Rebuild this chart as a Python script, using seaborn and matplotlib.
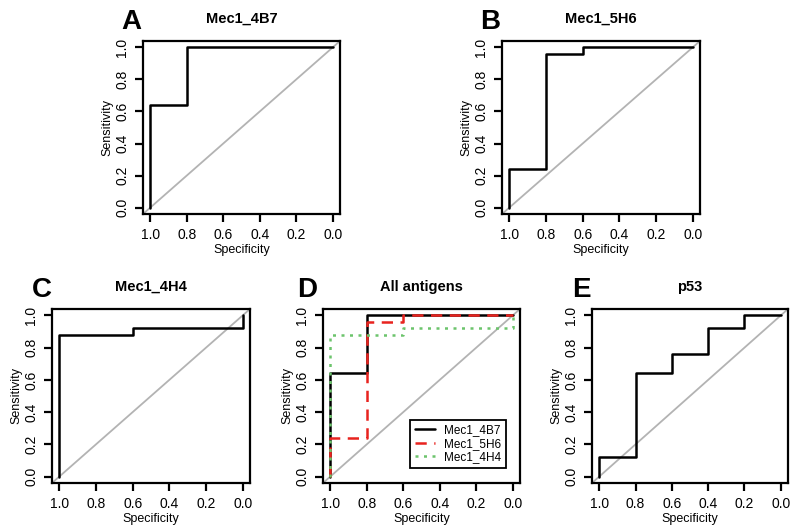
import matplotlib
matplotlib.use("Agg")
import matplotlib.pyplot as plt
import pandas as pd
import seaborn as sns

# ROC points (specificity, sensitivity)
SPEC_4B7 = [1.0, 1.0, 0.8, 0.8, 0.0]
SENS_4B7 = [0.0, 0.64, 0.64, 1.0, 1.0]

SPEC_5H6 = [1.0, 1.0, 0.8, 0.8, 0.6, 0.6, 0.0]
SENS_5H6 = [0.0, 0.24, 0.24, 0.96, 0.96, 1.0, 1.0]

SPEC_4H4 = [1.0, 1.0, 0.6, 0.6, 0.0, 0.0]
SENS_4H4 = [0.0, 0.88, 0.88, 0.92, 0.92, 1.0]

SPEC_P53 = [1.0, 1.0, 0.8, 0.8, 0.6, 0.6, 0.4, 0.4, 0.2, 0.2, 0.0]
SENS_P53 = [0.0, 0.12, 0.12, 0.64, 0.64, 0.76, 0.76, 0.92, 0.92, 1.0, 1.0]

TICKS = [1.0, 0.8, 0.6, 0.4, 0.2, 0.0]
TICK_LABELS = ["1.0", "0.8", "0.6", "0.4", "0.2", "0.0"]

sns.set_style("white")
plt.rcParams["font.family"] = ["Liberation Sans", "DejaVu Sans"]
plt.rcParams["text.color"] = "black"
plt.rcParams["axes.labelcolor"] = "black"


def roc_frame(spec, sens):
    return pd.DataFrame({"spec": spec, "sens": sens})


def style_axis(ax, letter, title, letter_x):
    ax.set_xlim(1.04, -0.04)
    ax.set_ylim(-0.04, 1.04)
    ax.axline((1.0, 0.0), (0.0, 1.0), color="#b3b3b3", linewidth=1.3, zorder=1)
    for spine in ax.spines.values():
        spine.set_visible(True)
        spine.set_color("black")
        spine.set_linewidth(1.6)
    ax.set_xticks(TICKS)
    ax.set_xticklabels(TICK_LABELS)
    ax.set_yticks(TICKS[::-1])
    ax.set_yticklabels(TICK_LABELS[::-1], rotation=90, va="center")
    ax.tick_params(axis="both", direction="out", length=6, width=1.6,
                   labelsize=10, colors="black", bottom=True, left=True)
    ax.tick_params(axis="x", pad=4)
    ax.tick_params(axis="y", pad=4)
    ax.set_xlabel("Specificity", fontsize=9, labelpad=1.5)
    ax.set_ylabel("Sensitivity", fontsize=9, labelpad=1.5)
    ax.set_title(title, fontsize=10.5, fontweight="bold", pad=13)
    ax.text(letter_x, 1.11, letter, transform=ax.transAxes, fontsize=20,
            fontweight="bold", ha="center", va="center", color="black")


fig = plt.figure(figsize=(8.0, 5.29), dpi=100)
W, H = 800.0, 529.0


def add_panel(left, top, right, bottom):
    return fig.add_axes([left / W, 1 - bottom / H, (right - left) / W, (bottom - top) / H])


ax_a = add_panel(143, 41, 340, 214)
ax_b = add_panel(502, 41, 700, 214)
ax_c = add_panel(52, 309, 250, 483)
ax_d = add_panel(323, 309, 520, 483)
ax_e = add_panel(592, 309, 788, 483)

line_kw = dict(x="spec", y="sens", sort=False, estimator=None, linewidth=1.8, zorder=3)

sns.lineplot(data=roc_frame(SPEC_4B7, SENS_4B7), ax=ax_a, color="black", **line_kw)
style_axis(ax_a, "A", "Mec1_4B7", -0.06)

sns.lineplot(data=roc_frame(SPEC_5H6, SENS_5H6), ax=ax_b, color="black", **line_kw)
style_axis(ax_b, "B", "Mec1_5H6", -0.06)

sns.lineplot(data=roc_frame(SPEC_4H4, SENS_4H4), ax=ax_c, color="black", **line_kw)
style_axis(ax_c, "C", "Mec1_4H4", -0.05)

sns.lineplot(data=roc_frame(SPEC_4B7, SENS_4B7), ax=ax_d, color="black",
             label="Mec1_4B7", **line_kw)
sns.lineplot(data=roc_frame(SPEC_5H6, SENS_5H6), ax=ax_d, color="#e8231e",
             linestyle=(0, (4.5, 3)), label="Mec1_5H6", **line_kw)
sns.lineplot(data=roc_frame(SPEC_4H4, SENS_4H4), ax=ax_d, color="#6cc46c",
             linestyle=(0, (1.2, 2.2)), label="Mec1_4H4", **line_kw)
style_axis(ax_d, "D", "All antigens", -0.08)
leg = ax_d.legend(loc="lower right", bbox_to_anchor=(0.93, 0.086), fontsize=8.5,
                  frameon=True, fancybox=False, edgecolor="black", framealpha=1,
                  handlelength=1.7, handletextpad=0.8, borderpad=0.4,
                  labelspacing=0.12, borderaxespad=0)
leg.get_frame().set_linewidth(1.3)

sns.lineplot(data=roc_frame(SPEC_P53, SENS_P53), ax=ax_e, color="black", **line_kw)
style_axis(ax_e, "E", "p53", -0.056)

fig.savefig("out.png", dpi=100)
